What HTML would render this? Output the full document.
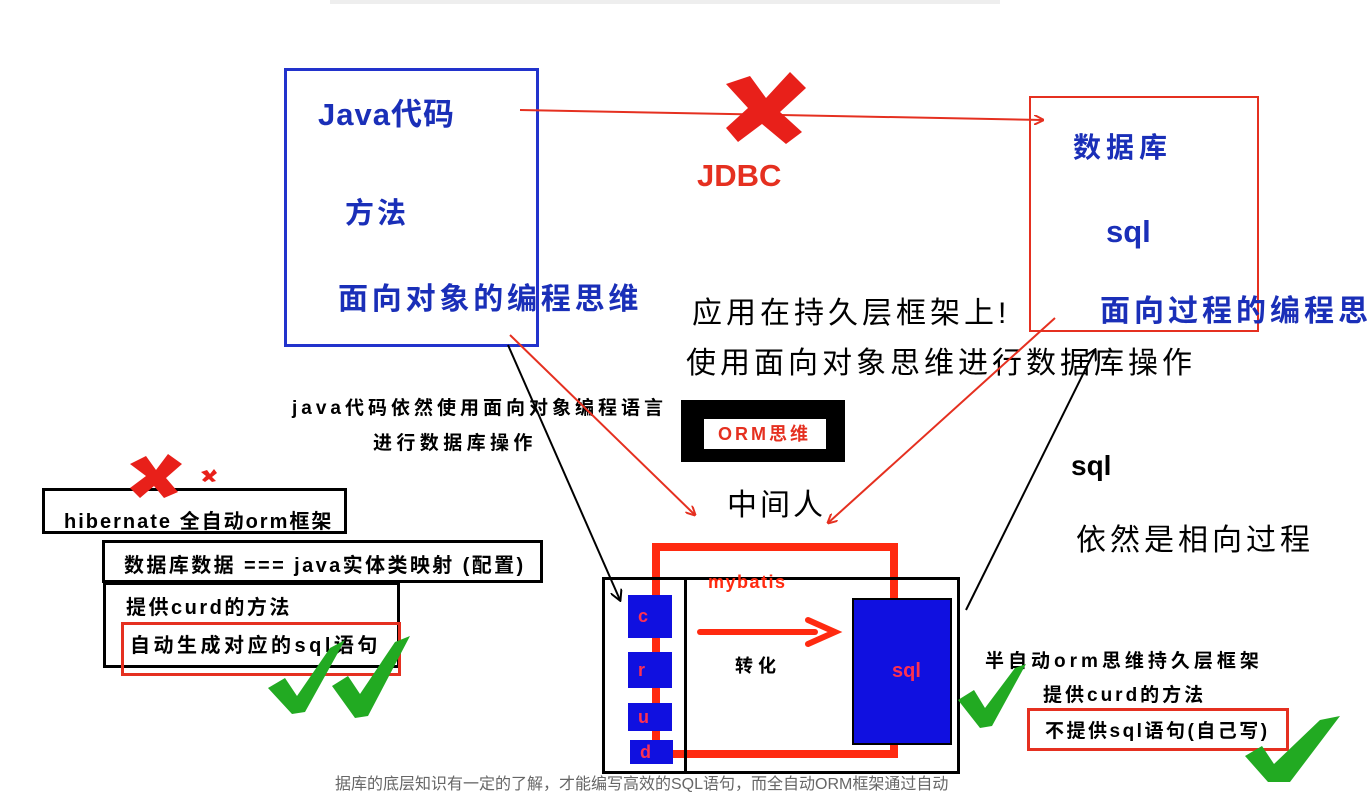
<!DOCTYPE html>
<html><head><meta charset="utf-8"><style>
body{margin:0;width:1369px;height:782px;overflow:hidden;background:#fff;position:relative;font-family:"Liberation Sans","Noto Sans CJK SC",sans-serif}
.a{position:absolute;white-space:nowrap}
.b{font-weight:bold}
.bl{color:#1a2fb8}
</style></head><body>
<div class="a" style="left:330px;top:0;width:670px;height:4px;background:#eee"></div>
<div class="a" style="left:284px;top:68px;width:249px;height:273px;border:3px solid #2233cc"></div>
<div class="a" style="left:1029px;top:96px;width:226px;height:232px;border:2px solid #e53020"></div>
<div class="a b bl" style="left:318px;top:89px;font-size:31px;letter-spacing:1px">Java代码</div>
<div class="a b bl" style="left:345px;top:190px;font-size:29px;letter-spacing:3px">方法</div>
<div class="a b bl" style="left:338px;top:274px;font-size:30px;letter-spacing:3.8px">面向对象的编程思维</div>
<div class="a b bl" style="left:1073px;top:126px;font-size:28px;letter-spacing:5px">数据库</div>
<div class="a b bl" style="left:1106px;top:214px;font-size:31px">sql</div>
<div class="a b bl" style="left:1100px;top:286px;font-size:30px;letter-spacing:4px">面向过程的编程思</div>
<div class="a b" style="left:697px;top:158px;font-size:31px;color:#e53020">JDBC</div>
<div class="a" style="left:692px;top:288px;font-size:30px;letter-spacing:4px">应用在持久层框架上!</div>
<div class="a" style="left:686px;top:338px;font-size:30px;letter-spacing:4px">使用面向对象思维进行数据库操作</div>
<div class="a b" style="left:292px;top:393px;font-size:19px;letter-spacing:4px">java代码依然使用面向对象编程语言</div>
<div class="a b" style="left:373px;top:428px;font-size:19px;letter-spacing:4.4px">进行数据库操作</div>
<div class="a" style="left:681px;top:400px;width:164px;height:62px;background:#000"></div>
<div class="a b" style="left:704px;top:419px;width:122px;height:30px;background:#fff;color:#e53020;font-size:18px;line-height:30px;text-indent:14px;letter-spacing:3px">ORM思维</div>
<div class="a" style="left:727px;top:480px;font-size:30px;letter-spacing:3px">中间人</div>
<div class="a b" style="left:1071px;top:450px;font-size:28px">sql</div>
<div class="a" style="left:1076px;top:515px;font-size:30px;letter-spacing:4px">依然是相向过程</div>

<div class="a" style="left:42px;top:488px;width:299px;height:40px;border:3px solid #000"></div>
<div class="a b" style="left:64px;top:505px;font-size:20px;letter-spacing:2px">hibernate 全自动orm框架</div>
<div class="a" style="left:102px;top:540px;width:435px;height:37px;border:3px solid #000"></div>
<div class="a b" style="left:124px;top:549px;font-size:20px;letter-spacing:2.4px">数据库数据 === java实体类映射 (配置)</div>
<div class="a" style="left:103px;top:582px;width:291px;height:80px;border:3px solid #000"></div>
<div class="a b" style="left:126px;top:591px;font-size:20px;letter-spacing:2.5px">提供curd的方法</div>
<div class="a" style="left:121px;top:622px;width:274px;height:48px;border:3px solid #e53020"></div>
<div class="a b" style="left:130px;top:629px;font-size:20px;letter-spacing:3.5px">自动生成对应的sql语句</div>

<div class="a" style="left:652px;top:543px;width:230px;height:199px;border:8px solid #ff2a10"></div>
<div class="a" style="left:602px;top:577px;width:352px;height:191px;border:3px solid #000"></div>
<div class="a" style="left:602px;top:577px;width:79px;height:191px;border:3px solid #000"></div>
<div class="a b" style="left:628px;top:595px;width:44px;height:43px;background:#1010e0;color:#ff3050;font-size:18px;line-height:43px;text-indent:10px">c</div>
<div class="a b" style="left:628px;top:652px;width:44px;height:36px;background:#1010e0;color:#ff3050;font-size:18px;line-height:36px;text-indent:10px">r</div>
<div class="a b" style="left:628px;top:703px;width:44px;height:28px;background:#1010e0;color:#ff3050;font-size:18px;line-height:28px;text-indent:10px">u</div>
<div class="a b" style="left:630px;top:740px;width:43px;height:24px;background:#1010e0;color:#ff3050;font-size:18px;line-height:24px;text-indent:10px">d</div>
<div class="a b" style="left:852px;top:598px;width:96px;height:143px;background:#1010e0;border:2px solid #000;color:#ff3050;font-size:20px;line-height:143px;text-indent:38px">sql</div>
<div class="a b" style="left:708px;top:572px;font-size:18px;color:#ff2a10;letter-spacing:1.5px">mybatis</div>
<div class="a b" style="left:735px;top:652px;font-size:18px;letter-spacing:5px">转化</div>
<div class="a b" style="left:985px;top:646px;font-size:19px;letter-spacing:4px">半自动orm思维持久层框架</div>
<div class="a b" style="left:1043px;top:680px;font-size:19px;letter-spacing:3px">提供curd的方法</div>
<div class="a" style="left:1027px;top:708px;width:256px;height:37px;border:3px solid #e53020"></div>
<div class="a b" style="left:1045px;top:716px;font-size:19px;letter-spacing:2.5px">不提供sql语句(自己写)</div>
<div class="a" style="left:335px;top:770px;font-size:16px;color:#666">据库的底层知识有一定的了解，才能编写高效的SQL语句，而全自动ORM框架通过自动</div>

<svg class="a" style="left:0;top:0" width="1369" height="782">
<defs>
<marker id="ar" markerWidth="10" markerHeight="10" refX="9" refY="5" orient="auto" markerUnits="userSpaceOnUse"><path d="M0,0L10,5L0,10" fill="none" stroke="#e53020" stroke-width="2"/></marker>
<marker id="ab" markerWidth="12" markerHeight="12" refX="10" refY="6" orient="auto" markerUnits="userSpaceOnUse"><path d="M0,0L11,6L0,12" fill="none" stroke="#000" stroke-width="2"/></marker>
</defs>
<line x1="520" y1="110" x2="1043" y2="120" stroke="#e53020" stroke-width="2" marker-end="url(#ar)"/>
<line x1="510" y1="335" x2="695" y2="515" stroke="#e53020" stroke-width="2" marker-end="url(#ar)"/>
<line x1="1055" y1="318" x2="828" y2="523" stroke="#e53020" stroke-width="2" marker-end="url(#ar)"/>
<line x1="508" y1="345" x2="620" y2="600" stroke="#000" stroke-width="2" marker-end="url(#ab)"/>
<line x1="966" y1="610" x2="1095" y2="350" stroke="#000" stroke-width="2" marker-end="url(#ab)"/>
<path d="M700,632L815,632" stroke="#ff2a10" stroke-width="6" stroke-linecap="round"/>
<path d="M808,620L835,632L808,644" fill="none" stroke="#ff2a10" stroke-width="6" stroke-linecap="round"/>
<g fill="#e8201a">
<path d="M726,84L750,76L766,98L790,72L806,88L780,112L802,132L786,144L762,124L738,142L726,128L748,108Z"/>
<path d="M130,464L146,456L156,470L168,454L182,464L166,478L178,492L164,498L154,486L140,498L130,488L146,476Z"/>
<path d="M201,472L207,470L210,474L214,469L217,473L212,477L216,481L212,482L209,479L205,482L202,480L206,476Z"/>
</g>
<g fill="#22aa22">
<path d="M268,688L285,678L297,696L330,648L345,640L305,712L292,714Z"/>
<path d="M332,686L348,676L360,694L395,642L410,636L368,716L355,718Z"/>
<path d="M958,700L974,690L985,708L1015,668L1026,664L992,726L980,728Z"/>
<path d="M1245,756L1262,746L1274,764L1320,720L1340,716L1290,782L1268,782Z"/>
</g>
</svg>
</body></html>
